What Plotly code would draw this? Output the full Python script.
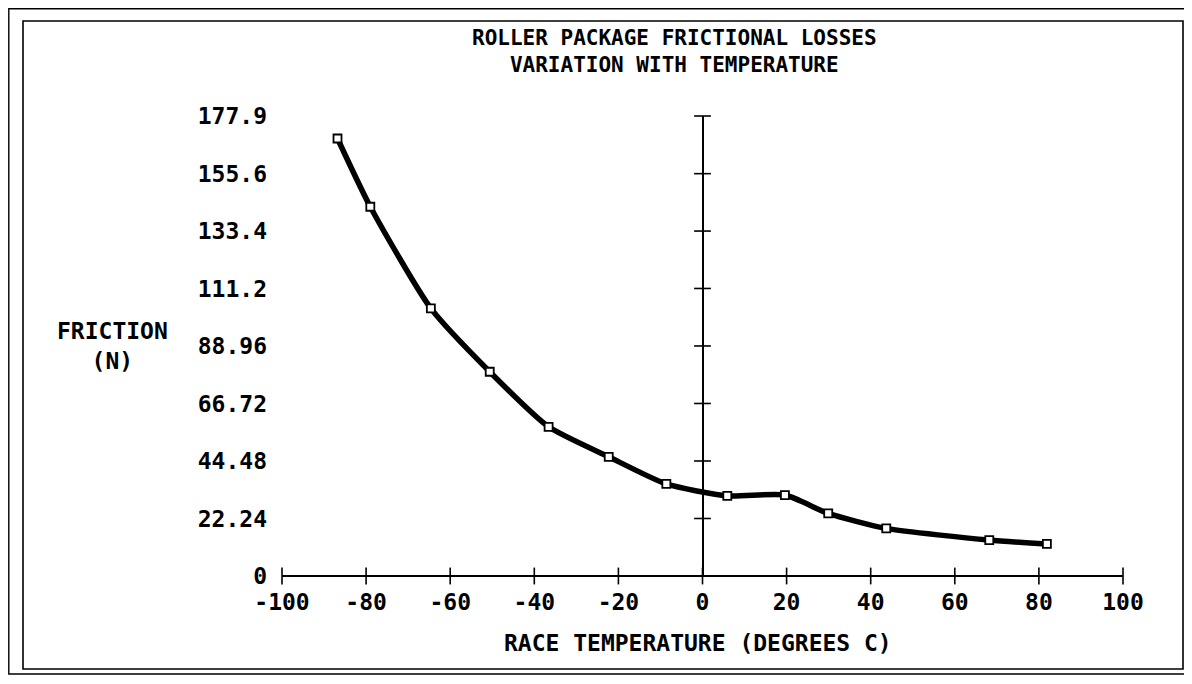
import plotly.graph_objects as go

# Data
temp_c = [-86.8, -79.0, -64.6, -50.6, -36.6, -22.3, -8.6, 5.9, 19.6, 29.9, 43.7, 68.2, 81.9]
friction_n = [169.2, 142.8, 103.5, 79.0, 57.7, 46.1, 35.6, 31.0, 31.3, 24.2, 18.4, 13.9, 12.4]

x_ticks = [-100, -80, -60, -40, -20, 0, 20, 40, 60, 80, 100]
y_ticks = [0, 22.24, 44.48, 66.72, 88.96, 111.2, 133.4, 155.6, 177.9]
y_tick_text = ["0", "22.24", "44.48", "66.72", "88.96", "111.2", "133.4", "155.6", "177.9"]

FONT = dict(family="DejaVu Sans Mono", size=23, color="black", weight="bold")

# the page body adds an 8px margin; work in figure coordinates
OFF = 8
FIG_W, FIG_H = 1192 - OFF, 684 - OFF

fig = go.Figure()

# curve
fig.add_trace(go.Scatter(
    x=temp_c, y=friction_n, mode="lines",
    line=dict(color="black", width=5.5, shape="spline", smoothing=0.6),
    hoverinfo="skip", showlegend=False))
fig.add_trace(go.Scatter(
    x=temp_c, y=friction_n, mode="markers",
    marker=dict(symbol="square", size=8, color="white",
                line=dict(color="black", width=1.8)),
    showlegend=False))

# tick crosses on x axis (at y=0) and on y axis (at x=0)
fig.add_trace(go.Scatter(
    x=x_ticks, y=[0] * len(x_ticks), mode="markers",
    marker=dict(symbol="line-ns", size=12, line=dict(color="black", width=1.6)),
    hoverinfo="skip", showlegend=False, cliponaxis=False))
fig.add_trace(go.Scatter(
    x=[0] * (len(y_ticks) - 1), y=y_ticks[1:], mode="markers",
    marker=dict(symbol="line-ew", size=12, line=dict(color="black", width=1.6)),
    hoverinfo="skip", showlegend=False, cliponaxis=False))

# reference-pixel geometry of the plot area
X_LEFT, X_RIGHT, Y_TOP, Y_BOT = 282, 1123, 116, 576
L = X_LEFT - OFF
T = Y_TOP - OFF
R = FIG_W - (X_RIGHT - OFF)
B = FIG_H - (Y_BOT - OFF)
W = X_RIGHT - X_LEFT
H = Y_BOT - Y_TOP


def px(xp):
    return (xp - X_LEFT) / W


def py(yp):
    return (Y_BOT - yp) / H


fig.update_layout(
    width=FIG_W, height=FIG_H,
    margin=dict(l=L, r=R, t=T, b=B, pad=0),
    paper_bgcolor="white", plot_bgcolor="white",
    font=FONT,
    xaxis=dict(range=[-100, 100], tickvals=x_ticks, ticktext=[str(v) for v in x_ticks],
               showgrid=False, zeroline=True, zerolinecolor="black", zerolinewidth=1.6,
               showline=False, ticks="", ticklabelstandoff=10,
               tickfont=FONT),
    yaxis=dict(range=[0, 177.9], tickvals=y_ticks, ticktext=y_tick_text,
               showgrid=False, zeroline=True, zerolinecolor="black", zerolinewidth=1.6,
               showline=False, ticks="", ticklabelstandoff=14,
               tickfont=FONT),
    annotations=[
        dict(text="ROLLER PACKAGE FRICTIONAL LOSSES<br>VARIATION WITH TEMPERATURE",
             x=px(674), y=py(52), xref="paper", yref="paper", showarrow=False,
             font=dict(FONT, size=21), align="center",
             xanchor="center", yanchor="middle"),
        dict(text="FRICTION<br>(N)", x=px(112), y=py(346),
             xref="paper", yref="paper", showarrow=False, font=FONT, align="center",
             xanchor="center", yanchor="middle"),
        dict(text="RACE TEMPERATURE (DEGREES C)", x=px(698), y=py(643),
             xref="paper", yref="paper", showarrow=False, font=FONT,
             xanchor="center", yanchor="middle"),
    ],
    shapes=[
        dict(type="rect", xref="paper", yref="paper",
             x0=px(23), x1=px(1183), y0=py(669), y1=py(21),
             line=dict(color="black", width=1.6)),
        dict(type="rect", xref="paper", yref="paper",
             x0=px(OFF + 0.8), x1=px(1186), y0=py(674), y1=py(OFF + 0.8),
             line=dict(color="black", width=1.4)),
    ],
)

fig.write_html("out.html")
